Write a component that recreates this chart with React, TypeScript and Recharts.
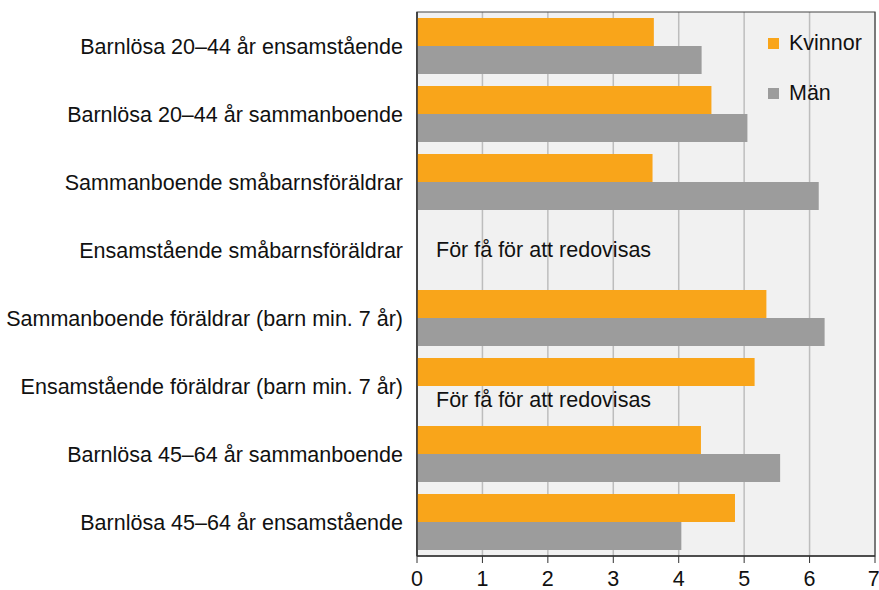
import { BarChart, Bar, XAxis, YAxis, CartesianGrid, ReferenceArea, ReferenceLine } from 'recharts';

const categories = [
  'Barnlösa 20–44 år ensamstående',
  'Barnlösa 20–44 år sammanboende',
  'Sammanboende småbarnsföräldrar',
  'Ensamstående småbarnsföräldrar',
  'Sammanboende föräldrar (barn min. 7 år)',
  'Ensamstående föräldrar (barn min. 7 år)',
  'Barnlösa 45–64 år sammanboende',
  'Barnlösa 45–64 år ensamstående',
];

const kvinnor = [3.62, 4.5, 3.6, null, 5.34, 5.16, 4.34, 4.86];
const man = [4.35, 5.05, 6.14, null, 6.23, null, 5.55, 4.04];

const xTicks = [0, 1, 2, 3, 4, 5, 6, 7];

const NOTE = 'För få för att redovisas';

const FONT = '"Liberation Sans", Arial, sans-serif';
const FS = 21.5;
const ORANGE = '#F9A51A';
const GRAY = '#9C9C9C';
const BAR_SIZE = 28;

const series = [
  { key: 'Kvinnor', color: ORANGE },
  { key: 'Män', color: GRAY },
];

const data = categories.map((name, i) => ({ name, Kvinnor: kvinnor[i], Män: man[i] }));

// rows where a value is missing get a note instead of a bar
const notes = categories
  .map((name, i) => ({ name, both: kvinnor[i] == null && man[i] == null, missing: man[i] == null }))
  .filter((n) => n.missing);

function NoteLabel(props: any) {
  const { viewBox, shift } = props;
  if (!viewBox) return null;
  return (
    <text x={viewBox.x + 19} y={viewBox.y + shift} dominantBaseline="central" fontSize={FS} fontFamily={FONT} fill="#111">
      {NOTE}
    </text>
  );
}

function LegendBox() {
  return (
    <div style={{ position: 'absolute', left: 768, top: 18, fontFamily: FONT, fontSize: FS, color: '#111' }}>
      {series.map((s) => (
        <div key={s.key} style={{ display: 'flex', alignItems: 'center', height: 50 }}>
          <span style={{ display: 'inline-block', width: 11, height: 11, background: s.color, marginRight: 10 }} />
          <span>{s.key}</span>
        </div>
      ))}
    </div>
  );
}

export default function App() {
  return (
    <div style={{ position: 'absolute', left: 0, top: 0, width: 879, height: 590, background: '#fff' }}>
      <BarChart
        width={879}
        height={590}
        data={data}
        layout="vertical"
        margin={{ top: 12, right: 4, left: 0, bottom: 4 }}
        barCategoryGap={6}
        barGap={0}
      >
        <CartesianGrid horizontal={false} fill="#F1F1F1" stroke="#BDBDBD" strokeWidth={1.5} />
        <XAxis
          type="number"
          domain={[0, 7]}
          ticks={xTicks}
          height={30}
          tickSize={7}
          tickMargin={8}
          tick={{ fontSize: FS, fontFamily: FONT, fill: '#111' }}
          axisLine={{ stroke: '#333', strokeWidth: 1.5 }}
          tickLine={{ stroke: '#333' }}
        />
        <YAxis
          type="category"
          dataKey="name"
          width={417}
          tickLine={false}
          tickMargin={8}
          tick={{ fontSize: FS, fontFamily: FONT, fill: '#111' }}
          axisLine={{ stroke: '#333', strokeWidth: 1.5 }}
        />
        <ReferenceArea x1={0} x2={7} fill="none" stroke="#444" strokeWidth={1.2} />
        {series.map((s) => (
          <Bar key={s.key} dataKey={s.key} fill={s.color} isAnimationActive={false} />
        ))}
        {notes.map((n) => (
          <ReferenceLine
            key={n.name}
            y={n.name}
            stroke="none"
            label={(p: any) => <NoteLabel {...p} shift={n.both ? 0 : BAR_SIZE / 2} />}
          />
        ))}
      </BarChart>
      <LegendBox />
    </div>
  );
}
